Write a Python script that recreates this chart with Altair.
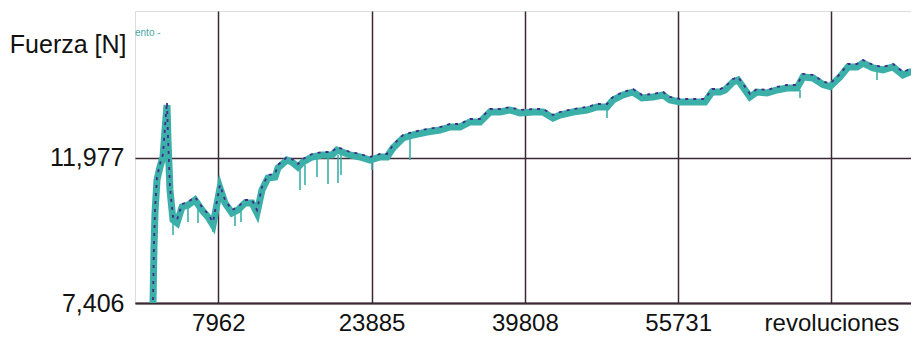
import altair as alt
import pandas as pd

# Force trace (revoluciones vs Fuerza [N])
rev = [1180, 1283, 1387, 1595, 1906, 2218, 2426, 2633, 2737, 2945, 3257, 3672,
       4191, 4815, 5542, 6269, 6892, 7411, 8138, 8658, 9385, 10008, 10735, 11462,
       11982, 12501, 13124, 13851, 14163, 15098, 15617, 16240, 16760, 17694, 18733,
       19772, 20291, 21641, 22680, 23719, 24758, 25485, 26108, 27147, 28186, 29640,
       30990, 32029, 33068, 34106, 35145, 36184, 37222, 38261, 39299, 40650, 41689,
       42727, 43454, 44805, 46259, 47298, 48337, 48960, 49999, 51037, 51972, 53115,
       54153, 54880, 55919, 57269, 58516, 59243, 60074, 60594, 61425, 61944, 62463,
       63190, 63918, 64956, 65995, 67034, 68073, 68696, 69735, 70773, 71500, 72539,
       73370, 74305, 74928, 75967, 77005, 78044, 79083, 79810, 80329, 80433]
force = [7406, 9172, 10243, 11283, 11693, 12008, 12859, 13647, 12544, 10968, 10023, 9928,
         10432, 10495, 10653, 10338, 10117, 9865, 11031, 10558, 10243, 10338, 10558, 10558,
         10243, 10968, 11346, 11378, 11661, 11914, 11851, 11693, 11851, 12008, 12071,
         12071, 12229, 12071, 12008, 11914, 12008, 12008, 12292, 12607, 12702, 12796,
         12859, 12954, 12954, 13112, 13112, 13427, 13427, 13490, 13395, 13427, 13427,
         13238, 13332, 13427, 13490, 13584, 13584, 13805, 13963, 14057, 13868, 13900,
         13963, 13805, 13742, 13742, 13742, 14057, 14057, 14120, 14372, 14435, 14215,
         13900, 14057, 14026, 14120, 14183, 14183, 14530, 14498, 14293, 14230, 14530,
         14845, 14845, 14971, 14814, 14751, 14845, 14593, 14688, 14688, 12607]

# Downward spikes of the trace
spike_rev = [3257, 4815, 5854, 7411, 9697, 10320, 16448, 16968, 18214, 19357,
             20395, 20707, 23927, 27874, 48337, 68384, 76382]
spike_top = [9960, 10432, 10495, 9960, 10338, 10495, 11756, 11756, 11977, 12008,
             12071, 12071, 11914, 12607, 13553, 14120, 14719]
spike_bottom = [9550, 9960, 9928, 9644, 9833, 9960, 10968, 11126, 11378, 11157,
                11189, 11441, 11598, 11914, 13238, 13868, 14435]

x_ticks = [7962, 23885, 39808, 55731, 71654]
y_ticks = [7406, 11977]

df = pd.DataFrame({"rev": rev, "force": force})
sp = pd.DataFrame({"rev": spike_rev, "top": spike_top, "bottom": spike_bottom})

FONT = "Liberation Sans"
GRID = "#3a2835"
TEAL = "#3bb0a8"
PURPLE = "#47288a"

xscale = alt.Scale(domain=[-690, 79913], nice=False, zero=False)
yscale = alt.Scale(domain=[7406, 16610], nice=False, zero=False)

xaxis = alt.Axis(values=x_ticks, format="d",
                 labelExpr="datum.value == 71654 ? 'revoluciones' : datum.label",
                 ticks=False, tickSize=0, labelPadding=8, labelFontSize=24,
                 labelFont=FONT, labelColor="#111111", domainColor=GRID,
                 domainWidth=2, gridColor=GRID, gridWidth=1.5, gridOpacity=1,
                 labelFlush=False, labelOverlap=False, title=None)
yaxis = alt.Axis(values=y_ticks, format=",d", ticks=False, tickSize=0,
                 labelPadding=11, labelFontSize=25, labelFont=FONT,
                 labelColor="#111111", labelBaseline="middle", domain=False,
                 gridColor=GRID, gridWidth=1.5, gridOpacity=1,
                 title="Fuerza [N]", titleAngle=0, titleX=-9, titleY=41,
                 titleAlign="right", titleBaseline="alphabetic", titleFont=FONT,
                 titleFontSize=25, titleFontWeight="normal", titleColor="#111111")

base = alt.Chart(df)
teal = base.mark_line(color=TEAL, strokeWidth=7, clip=True).encode(
    x=alt.X("rev:Q", scale=xscale, axis=xaxis),
    y=alt.Y("force:Q", scale=yscale, axis=yaxis),
)
purple = base.mark_line(color=PURPLE, strokeWidth=1.8, strokeDash=[3, 5],
                        yOffset=-3, clip=True).encode(
    x=alt.X("rev:Q", scale=xscale),
    y=alt.Y("force:Q", scale=yscale),
)
spikes = alt.Chart(sp).mark_rule(color=TEAL, strokeWidth=1.6, clip=True).encode(
    x=alt.X("rev:Q", scale=xscale),
    y=alt.Y("top:Q", scale=yscale),
    y2="bottom:Q",
)
legend_frag = alt.Chart(pd.DataFrame({"t": ["ento -"]})).mark_text(
    align="left", baseline="middle", fontSize=10, font="Liberation Sans",
    color="#4aa8a8").encode(x=alt.value(0), y=alt.value(22), text="t:N")

chart = alt.layer(spikes, teal, purple, legend_frag).properties(
    width=776, height=292,
    padding={"left": 127, "top": 3, "right": 0, "bottom": 31},
    autosize=alt.AutoSizeParams(type="none"),
).configure_view(fill="#e4e4e4", strokeWidth=0).configure(background="white")

chart.save("out.html", embed_options={"renderer": "svg", "actions": False})
